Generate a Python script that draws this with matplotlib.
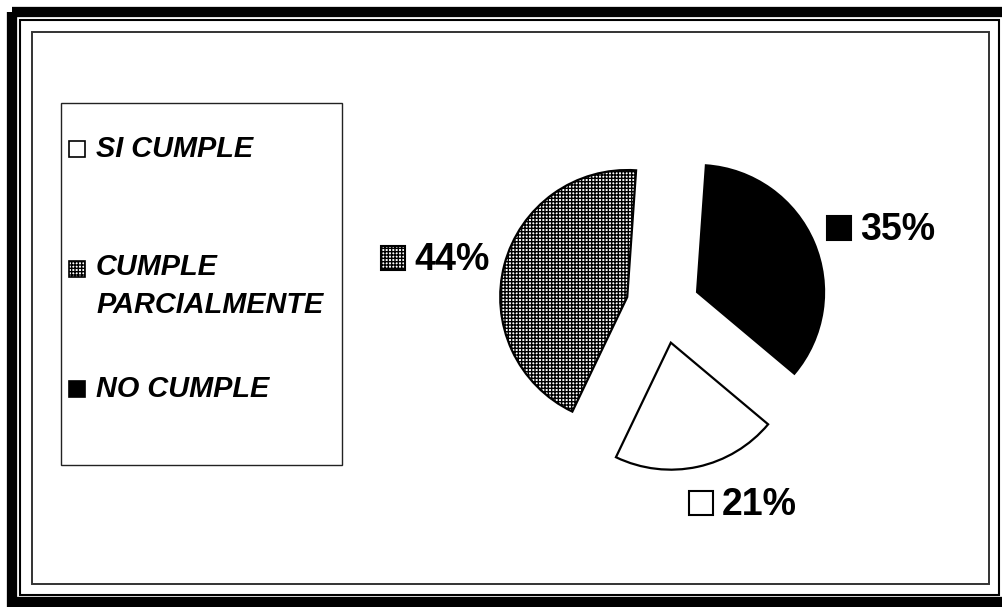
import matplotlib.pyplot as plt
from matplotlib.patches import Rectangle

plt.rcParams['font.family'] = ['Liberation Sans', 'DejaVu Sans']
plt.rcParams['hatch.linewidth'] = 1.0

# data, in the order the slices are drawn (clockwise from the top)
categorias = ["NO CUMPLE", "SI CUMPLE", "CUMPLE PARCIALMENTE"]
porcentajes = [35, 21, 44]
# order used in the legend box
orden_leyenda = ["SI CUMPLE", "CUMPLE PARCIALMENTE", "NO CUMPLE"]
textos_leyenda = {"SI CUMPLE": "SI CUMPLE",
                  "CUMPLE PARCIALMENTE": "CUMPLE\nPARCIALMENTE",
                  "NO CUMPLE": "NO CUMPLE"}

estilos = {
    "NO CUMPLE": dict(facecolor="black", hatch=None),
    "SI CUMPLE": dict(facecolor="white", hatch=None),
    "CUMPLE PARCIALMENTE": dict(facecolor="white", hatch="+++++"),
}

W, H = 1003, 607
fig = plt.figure(figsize=(W / 100, H / 100), dpi=100)
ax = fig.add_axes([0, 0, 1, 1])

# pie in pixel coordinates (y grows downwards); explode is in pixels here
centro = (663, 306.5)
radio = 127
wedges, _ = ax.pie(porcentajes, center=centro, radius=radio,
                   explode=[37] * len(porcentajes),
                   startangle=-86, counterclock=True, frame=True,
                   wedgeprops=dict(edgecolor="black", linewidth=1.6))
for w, cat in zip(wedges, categorias):
    w.set_facecolor(estilos[cat]["facecolor"])
    if estilos[cat]["hatch"]:
        w.set_hatch(estilos[cat]["hatch"])

ax.set_xlim(0, W)
ax.set_ylim(H, 0)
ax.set_aspect("auto")
ax.axis("off")

# double border around the figure and the chart area frame
ax.add_patch(Rectangle((12, 11.5), 1009 - 12, 602 - 11.5, fill=False,
                       edgecolor="black", linewidth=7.4, clip_on=False))
ax.add_patch(Rectangle((20.5, 20), 999 - 20.5, 595 - 20, fill=False,
                       edgecolor="black", linewidth=1.5, clip_on=False))
ax.add_patch(Rectangle((32, 32), 989 - 32, 583.5 - 32, fill=False,
                       edgecolor="#333333", linewidth=1.4))

# legend box: swatch baseline, text baseline (last line)
ax.add_patch(Rectangle((61, 103), 342 - 61, 465 - 103, fill=False,
                       edgecolor="#222222", linewidth=1.0))
pos_leyenda = {"SI CUMPLE": (157, 157),
               "CUMPLE PARCIALMENTE": (277, 313),
               "NO CUMPLE": (397, 397)}
for cat in orden_leyenda:
    ys, yt = pos_leyenda[cat]
    est = estilos[cat]
    ax.add_patch(Rectangle((69, ys - 16), 16, 16, facecolor=est["facecolor"],
                           hatch=est["hatch"], edgecolor="black", linewidth=1.2))
    ax.text(96, yt, textos_leyenda[cat], fontsize=20.8, fontweight="bold",
            fontstyle="italic", va="baseline", ha="left", linespacing=1.45)

# percentage labels next to each slice
pos_etiquetas = {"CUMPLE PARCIALMENTE": (381, 270),
                 "NO CUMPLE": (827, 240),
                 "SI CUMPLE": (689, 515)}
for cat, val in zip(categorias, porcentajes):
    x, yb = pos_etiquetas[cat]
    est = estilos[cat]
    ax.add_patch(Rectangle((x, yb - 24), 24, 24, facecolor=est["facecolor"],
                           hatch=est["hatch"], edgecolor="black", linewidth=1.5))
    ax.text(x + 33, yb, f"{val}%", fontsize=27, fontweight="bold",
            va="baseline", ha="left")

fig.savefig("out.png", dpi=100)
